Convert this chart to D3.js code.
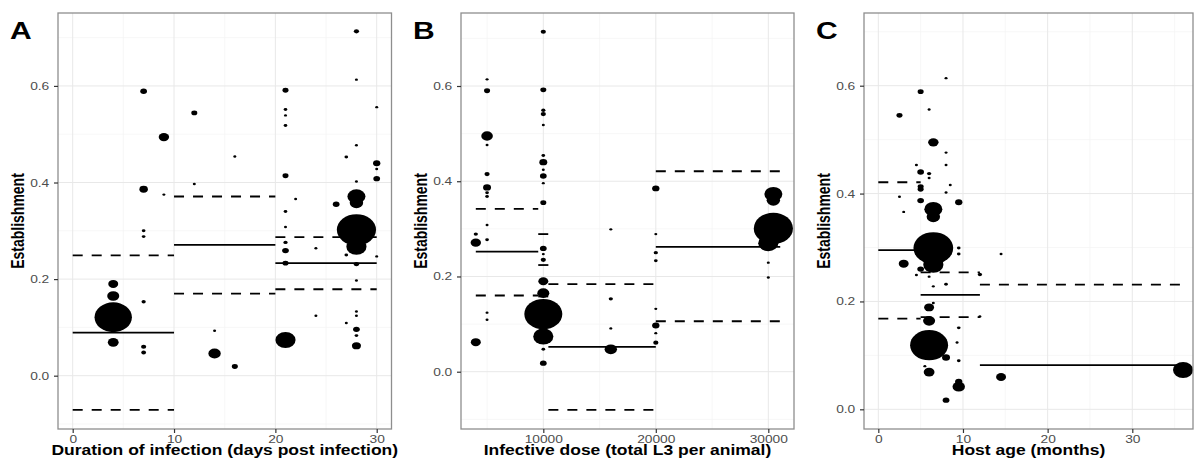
<!DOCTYPE html>
<html>
<head>
<meta charset="utf-8">
<script src="https://d3js.org/d3.v7.min.js"></script>
<style>
  body { margin: 0; background: #fff; }
  text { font-family: "Liberation Sans", Arial, sans-serif; }
</style>
</head>
<body>
<script>
// ---- values ----
// A: duration of infection (days post infection)
var durX = [4,4,4,4, 7,7,7,7,7,7,7, 9,9, 12,12, 14,14, 16,16,
            21,21,21,21,21,21,21,21,21,21,21, 22, 24,24, 26, 27,27,27,
            28,28,28,28,28,28,28,28,28,28,28,28,28,28,28, 30,30,30,30,30];
var durY = [0.121,0.190,0.165,0.069, 0.589,0.386,0.300,0.288,0.153,0.060,0.048, 0.494,0.375, 0.544,0.397, 0.093,0.046, 0.454,0.019,
            0.591,0.551,0.539,0.518,0.414,0.340,0.308,0.276,0.259,0.233,0.074, 0.366, 0.264,0.124, 0.355, 0.453,0.250,0.109,
            0.713,0.613,0.477,0.402,0.371,0.358,0.302,0.267,0.231,0.197,0.133,0.124,0.096,0.083,0.062, 0.556,0.440,0.428,0.408,0.247];
var durN = [155,11,16,13, 5,8,1.5,1.5,2,3,2.5, 12,1, 4,1, 1,17, 1,4,
            4,1.5,1,1.5,4,1.5,1,2,5,4,45, 1, 1,1, 5, 1.5,1.5,1,
            3,1,1,1,36,20,170,45,3,1,1,1,5,1.5,9, 1,6,1,5,1];
var durSegFrom = [0, 10, 20];
var durSegTo   = [10, 20, 30];
var durMean = [0.089, 0.271, 0.233];
var durLow  = [-0.071, 0.170, 0.179];
var durHigh = [0.249, 0.371, 0.287];

// B: infective dose (total L3 per animal)
var doseX = [4000,4000,4000,
             5000,5000,5000,5000,5000,5000,5000,5000,5000,5000,5000,5000,
             10000,10000,10000,10000,10000,10000,10000,10000,10000,10000,10000,10000,10000,10000,10000,10000,10000,10000,10000,10000,
             16000,16000,16000,16000,
             20000,20000,20000,20000,20000,20000,20000,20000,
             30000,30000,30000, 30450,30450,30450];
var doseY = [0.289,0.271,0.062,
             0.614,0.590,0.495,0.476,0.415,0.387,0.376,0.368,0.308,0.277,0.124,0.109,
             0.714,0.592,0.549,0.541,0.518,0.454,0.440,0.424,0.411,0.396,0.355,0.259,0.247,0.235,0.190,0.165,0.121,0.074,0.047,0.018,
             0.299,0.153,0.091,0.047,
             0.385,0.289,0.250,0.233,0.132,0.097,0.081,0.061,
             0.270,0.229,0.198, 0.373,0.360,0.301];
var doseN = [2,12,11,
             1,4,15,1,3,7,1.5,1.5,1,1.5,1,1,
             3,4,2,3,1,1.5,7,1,5,1,4,5,1,3,11,16,160,45,1.5,5,
             1,2,1,17,
             6,1,2,1.5,1,6,1,3,
             45,1,1, 36,20,170];
var doseSegFrom = [4000, 9550, 10450, 20000];
var doseSegTo   = [9550, 10450, 20000, 31060];
var doseMean = [0.252, 0.224, 0.052, 0.262];
var doseLow  = [0.160, 0.158, -0.080, 0.106];
var doseHigh = [0.342, 0.289, 0.184, 0.421];

// C: host age (months)
var ageX = [2.5,2.5, 3,3, 4.5,4.5, 5,5,5,5,5,5, 5.5, 6,6,6,6,6,6,6,6,
            6.5,6.5,6.5,6.5,6.5,6.5,6.5, 8,8,8,8,8,8,8, 8.5, 9.3,
            9.5,9.5,9.5,9.5,9.5,9.5,9.5, 12,12, 14.5,14.5, 36];
var ageY = [0.545,0.394, 0.366,0.270, 0.453,0.249, 0.589,0.440,0.413,0.408,0.387,0.260, 0.080,
            0.556,0.437,0.429,0.246,0.189,0.164,0.119,0.069,
            0.495,0.371,0.357,0.299,0.268,0.228,0.197, 0.614,0.476,0.453,0.402,0.232,0.096,0.017, 0.416, 0.124,
            0.384,0.299,0.288,0.151,0.090,0.051,0.042, 0.250,0.172, 0.288,0.060, 0.073];
var ageN = [4,1, 1,11, 1,1, 4,5,4,4,5,5, 1, 1,2,1,1,11,16,160,13,
            12,36,20,175,45,1,1, 1,1,1,1,1.5,7,5, 1, 1,
            6,1.5,1.5,1.5,1.5,6,17, 2,1, 1,11, 45];
var ageSegFrom = [0, 5, 12];
var ageSegTo   = [5, 12, 36];
var ageMean = [0.295, 0.212, 0.082];
var ageLow  = [0.168, 0.171, null];
var ageHigh = [0.421, 0.254, 0.231];

var panelLetters = ["A", "B", "C"];
var xTitles = ["Duration of infection (days post infection)",
               "Infective dose (total L3 per animal)",
               "Host age (months)"];
var xTicksA = [0, 10, 20, 30], xTicksB = [10000, 20000, 30000], xTicksC = [0, 10, 20, 30];
var yTicks = [0, 0.2, 0.4, 0.6];

// ---- layout ----
var W = 1194, H = 467;
var plotTop = 13, plotBottom = 429;
var stretch = 1.25;   // the figure is widened horizontally

var svg = d3.select("body").append("svg")
    .attr("width", W).attr("height", H);

var size = d3.scaleSqrt().domain([0, 200]).range([0, 17]);

function zip(xs, ys, ns) {
  return xs.map(function(v, i) { return {x: v, y: ys[i], n: ns[i]}; });
}
function segs(a, b, m, lo, hi) {
  return a.map(function(v, i) { return {x0: v, x1: b[i], mean: m[i], lo: lo[i], hi: hi[i]}; });
}

var panels = [
  {left: 58, right: 391.5, xDom: [-1.45, 31.46], yDom: [-0.1104, 0.751],
   xTicks: xTicksA, xMinor: [5, 15, 25], yMinor: [-0.1, 0.1, 0.3, 0.5, 0.7],
   pts: zip(durX, durY, durN), segs: segs(durSegFrom, durSegTo, durMean, durLow, durHigh)},
  {left: 461, right: 794, xDom: [2684, 32284], yDom: [-0.1203, 0.7533],
   xTicks: xTicksB, xMinor: [5000, 15000, 25000], yMinor: [-0.1, 0.1, 0.3, 0.5, 0.7],
   pts: zip(doseX, doseY, doseN), segs: segs(doseSegFrom, doseSegTo, doseMean, doseLow, doseHigh)},
  {left: 864, right: 1193, xDom: [-1.69, 37.17], yDom: [-0.0365, 0.7348],
   xTicks: xTicksC, xMinor: [5, 15, 25, 35], yMinor: [0.1, 0.3, 0.5, 0.7],
   pts: zip(ageX, ageY, ageN), segs: segs(ageSegFrom, ageSegTo, ageMean, ageLow, ageHigh)}
];

panels.forEach(function(p, k) {
  var x = d3.scaleLinear().domain(p.xDom).range([p.left, p.right]);
  var y = d3.scaleLinear().domain(p.yDom).range([plotBottom, plotTop]);
  var g = svg.append("g");

  // grid
  g.selectAll("line.xmin").data(p.xMinor).enter().append("line")
    .attr("x1", x).attr("x2", x).attr("y1", plotTop).attr("y2", plotBottom)
    .style("stroke", "#f3f3f3").style("stroke-width", 0.7);
  g.selectAll("line.ymin").data(p.yMinor).enter().append("line")
    .attr("x1", p.left).attr("x2", p.right).attr("y1", y).attr("y2", y)
    .style("stroke", "#f3f3f3").style("stroke-width", 0.7);
  g.selectAll("line.xmaj").data(p.xTicks).enter().append("line")
    .attr("x1", x).attr("x2", x).attr("y1", plotTop).attr("y2", plotBottom)
    .style("stroke", "#e8e8e8").style("stroke-width", 1);
  g.selectAll("line.ymaj").data(yTicks).enter().append("line")
    .attr("x1", p.left).attr("x2", p.right).attr("y1", y).attr("y2", y)
    .style("stroke", "#e8e8e8").style("stroke-width", 1);

  // mean and interval lines
  g.selectAll("line.mean").data(p.segs).enter().append("line")
    .attr("x1", function(d) { return x(d.x0); })
    .attr("x2", function(d) { return x(d.x1); })
    .attr("y1", function(d) { return y(d.mean); })
    .attr("y2", function(d) { return y(d.mean); })
    .style("stroke", "#000").style("stroke-width", 1.8);
  ["lo", "hi"].forEach(function(key) {
    g.selectAll("line." + key).data(p.segs.filter(function(d) { return d[key] != null; }))
      .enter().append("line")
      .attr("x1", function(d) { return x(d.x0); })
      .attr("x2", function(d) { return x(d.x1); })
      .attr("y1", function(d) { return y(d[key]); })
      .attr("y2", function(d) { return y(d[key]); })
      .style("stroke", "#000").style("stroke-width", 1.8)
      .style("stroke-dasharray", "10,9");
  });

  // points, area ~ weight
  g.selectAll("ellipse").data(p.pts).enter().append("ellipse")
    .attr("cx", function(d) { return x(d.x); })
    .attr("cy", function(d) { return y(d.y); })
    .attr("rx", function(d) { return size(d.n) * stretch; })
    .attr("ry", function(d) { return size(d.n); })
    .style("fill", "#000");

  // panel border
  g.append("rect")
    .attr("x", p.left).attr("y", plotTop)
    .attr("width", p.right - p.left).attr("height", plotBottom - plotTop)
    .style("fill", "none").style("stroke", "#8e8e8e").style("stroke-width", 1.3);

  // axes
  var xa = g.append("g").attr("transform", "translate(0," + plotBottom + ")")
    .call(d3.axisBottom(x).tickValues(p.xTicks).tickFormat(d3.format("d")).tickSize(4).tickPadding(2.5));
  var ya = g.append("g").attr("transform", "translate(" + p.left + ",0)")
    .call(d3.axisLeft(y).tickValues(yTicks).tickFormat(d3.format(".1f")).tickSize(4).tickPadding(3));
  [xa, ya].forEach(function(a) {
    a.select(".domain").remove();
    a.selectAll(".tick line").style("stroke", "#333").style("stroke-width", 1.2);
    a.selectAll(".tick text")
      .attr("transform", "scale(" + stretch + ",1)")
      .style("font-size", "11px").style("fill", "#4d4d4d")
      .style("font-family", "'Liberation Sans', Arial, sans-serif");
  });

  // titles
  g.append("text")
    .attr("transform", "translate(" + ((p.left + p.right) / 2) + ",455) scale(" + stretch + ",1)")
    .attr("text-anchor", "middle")
    .style("font-size", "14px").style("font-weight", "bold")
    .text(xTitles[k]);
  g.append("text")
    .attr("transform", "translate(" + (p.left - 34) + "," + ((plotTop + plotBottom) / 2) + ") scale(" + stretch + ",1) rotate(-90)")
    .attr("text-anchor", "middle")
    .style("font-size", "14px").style("font-weight", "bold")
    .text("Establishment");
  g.append("text")
    .attr("transform", "translate(" + (p.left - 48) + ",38.5) scale(" + stretch + ",1)")
    .style("font-size", "24px").style("font-weight", "bold")
    .text(panelLetters[k]);
});
</script>
</body>
</html>
